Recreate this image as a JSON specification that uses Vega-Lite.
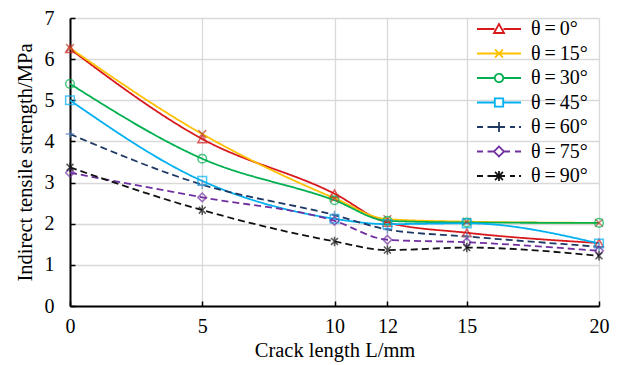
{
  "$schema": "https://vega.github.io/schema/vega-lite/v6.json",
  "width": 529,
  "height": 288,
  "autosize": "none",
  "padding": {"left": 70, "top": 18, "right": 21, "bottom": 59},
  "background": "white",
  "config": {
    "font": "Liberation Serif",
    "view": {"stroke": null},
    "axis": {
      "labelFont": "Liberation Serif",
      "titleFont": "Liberation Serif",
      "labelFontSize": 20,
      "titleFontSize": 20.5,
      "titleFontWeight": "normal",
      "labelColor": "black",
      "titleColor": "black",
      "domainColor": "black",
      "domainWidth": 2,
      "tickColor": "black",
      "tickWidth": 1.5,
      "gridColor": "#d9d9d9",
      "gridWidth": 1.3
    }
  },
  "data": {
    "values": [
      {"s": "θ = 0°", "L": 0, "v": 6.25}, {"s": "θ = 0°", "L": 5, "v": 4.06}, {"s": "θ = 0°", "L": 10, "v": 2.73}, {"s": "θ = 0°", "L": 12, "v": 2.03}, {"s": "θ = 0°", "L": 15, "v": 1.78}, {"s": "θ = 0°", "L": 20, "v": 1.53},
      {"s": "θ = 15°", "L": 0, "v": 6.27}, {"s": "θ = 15°", "L": 5, "v": 4.18}, {"s": "θ = 15°", "L": 10, "v": 2.62}, {"s": "θ = 15°", "L": 12, "v": 2.11}, {"s": "θ = 15°", "L": 15, "v": 2.05}, {"s": "θ = 15°", "L": 20, "v": 2.02},
      {"s": "θ = 30°", "L": 0, "v": 5.40}, {"s": "θ = 30°", "L": 5, "v": 3.58}, {"s": "θ = 30°", "L": 10, "v": 2.57}, {"s": "θ = 30°", "L": 12, "v": 2.07}, {"s": "θ = 30°", "L": 15, "v": 2.03}, {"s": "θ = 30°", "L": 20, "v": 2.02},
      {"s": "θ = 45°", "L": 0, "v": 5.00}, {"s": "θ = 45°", "L": 5, "v": 3.04}, {"s": "θ = 45°", "L": 10, "v": 2.12}, {"s": "θ = 45°", "L": 12, "v": 1.99}, {"s": "θ = 45°", "L": 15, "v": 2.01}, {"s": "θ = 45°", "L": 20, "v": 1.52},
      {"s": "θ = 60°", "L": 0, "v": 4.18}, {"s": "θ = 60°", "L": 5, "v": 2.95}, {"s": "θ = 60°", "L": 10, "v": 2.21}, {"s": "θ = 60°", "L": 12, "v": 1.86}, {"s": "θ = 60°", "L": 15, "v": 1.69}, {"s": "θ = 60°", "L": 20, "v": 1.44},
      {"s": "θ = 75°", "L": 0, "v": 3.24}, {"s": "θ = 75°", "L": 5, "v": 2.64}, {"s": "θ = 75°", "L": 10, "v": 2.07}, {"s": "θ = 75°", "L": 12, "v": 1.61}, {"s": "θ = 75°", "L": 15, "v": 1.55}, {"s": "θ = 75°", "L": 20, "v": 1.34},
      {"s": "θ = 90°", "L": 0, "v": 3.37}, {"s": "θ = 90°", "L": 5, "v": 2.33}, {"s": "θ = 90°", "L": 10, "v": 1.57}, {"s": "θ = 90°", "L": 12, "v": 1.36}, {"s": "θ = 90°", "L": 15, "v": 1.42}, {"s": "θ = 90°", "L": 20, "v": 1.22}
    ]
  },
  "encoding": {
    "x": {
      "field": "L", "type": "quantitative",
      "scale": {"domain": [0, 20], "nice": false, "zero": false},
      "axis": {"values": [0, 5, 10, 12, 15, 20], "title": "Crack length L/mm", "tickSize": -5, "labelPadding": 15, "titlePadding": 4, "labelFlush": false}
    },
    "y": {
      "field": "v", "type": "quantitative",
      "scale": {"domain": [0, 7], "nice": false},
      "axis": {"values": [0, 1, 2, 3, 4, 5, 6, 7], "title": "Indirect tensile strength/MPa", "tickSize": -5, "labelPadding": 21, "titlePadding": 9}
    }
  },
  "layer": [
    {
      "mark": {"type": "line", "interpolate": "monotone", "strokeWidth": 1.8},
      "encoding": {
        "color": {
          "field": "s", "type": "nominal",
          "scale": {
            "domain": ["θ = 0°", "θ = 15°", "θ = 30°", "θ = 45°", "θ = 60°", "θ = 75°", "θ = 90°"],
            "range": ["#D7191C", "#FFC000", "#00B050", "#00B0F0", "#1F3864", "#7030A0", "#111111"]
          },
          "legend": {
            "title": null,
            "orient": "none",
            "legendX": 418,
            "legendY": 0,
            "labelFont": "Liberation Serif",
            "labelFontSize": 20,
            "labelColor": "black",
            "symbolSize": 400,
            "symbolStrokeWidth": 1.8,
            "labelOffset": 21,
            "rowPadding": 3.5,
            "padding": 0,
            "encode": {
              "symbols": {
                "update": {
                  "strokeDash": {"value": [1, 0]},
                  "fill": {"value": "white"},
                  "shape": {"signal": "datum.value === 'θ = 0°' ? 'M-2.2,0H-0.45M0.45,0H2.2M0,-0.5L0.5,0.4L-0.5,0.4Z' : datum.value === 'θ = 15°' ? 'M-2.2,0H2.2M-0.4,-0.4L0.4,0.4M-0.4,0.4L0.4,-0.4' : datum.value === 'θ = 30°' ? 'M-2.2,0H-0.42M0.42,0H2.2M0.42,0A0.42,0.42,0,1,1,-0.42,0A0.42,0.42,0,1,1,0.42,0Z' : datum.value === 'θ = 45°' ? 'M-2.2,0H-0.42M0.42,0H2.2M-0.42,-0.42H0.42V0.42H-0.42Z' : datum.value === 'θ = 60°' ? 'M-2.2,0H-1.6M-1.15,0H0.6M1.1,0H1.6M2.0,0H2.2M0,-0.5V0.5' : datum.value === 'θ = 75°' ? 'M-2.2,0H-1.6M-1.15,0H-0.5M0.5,0H1.1M1.6,0H2.2M0,-0.5L0.5,0L0,0.5L-0.5,0Z' : 'M-2.2,0H-1.6M-1.15,0H0.6M1.1,0H1.6M2.0,0H2.2M-0.4,-0.4L0.4,0.4M-0.4,0.4L0.4,-0.4M0,-0.5V0.5'"}
                }
              },
              "labels": {"update": {"text": {"signal": "replace(datum.label, / /g, '\u2009')"}}}
            }
          }
        },
        "strokeDash": {
          "field": "s", "type": "nominal",
          "scale": {"range": [[1, 0], [1, 0], [1, 0], [1, 0], [7, 4], [7, 4], [7, 4]]},
          "legend": null
        }
      }
    },
    {
      "mark": {"type": "point", "filled": false, "size": 75, "strokeWidth": 1.5},
      "encoding": {
        "stroke": {
          "field": "s", "type": "nominal",
          "scale": {"range": ["#D7191C", "#B5452F", "#00B050", "#00B0F0", "#4F81BD", "#7030A0", "#111111"]},
          "legend": null
        },
        "shape": {
          "field": "s", "type": "nominal",
          "scale": {"range": ["triangle-up", "M-0.9,-0.9L0.9,0.9M-0.9,0.9L0.9,-0.9", "circle", "square", "M-1,0H1M0,-1V1", "diamond", "M-0.8,-0.8L0.8,0.8M-0.8,0.8L0.8,-0.8M0,-1.1V1.1"]},
          "legend": null
        }
      }
    }
  ]
}
